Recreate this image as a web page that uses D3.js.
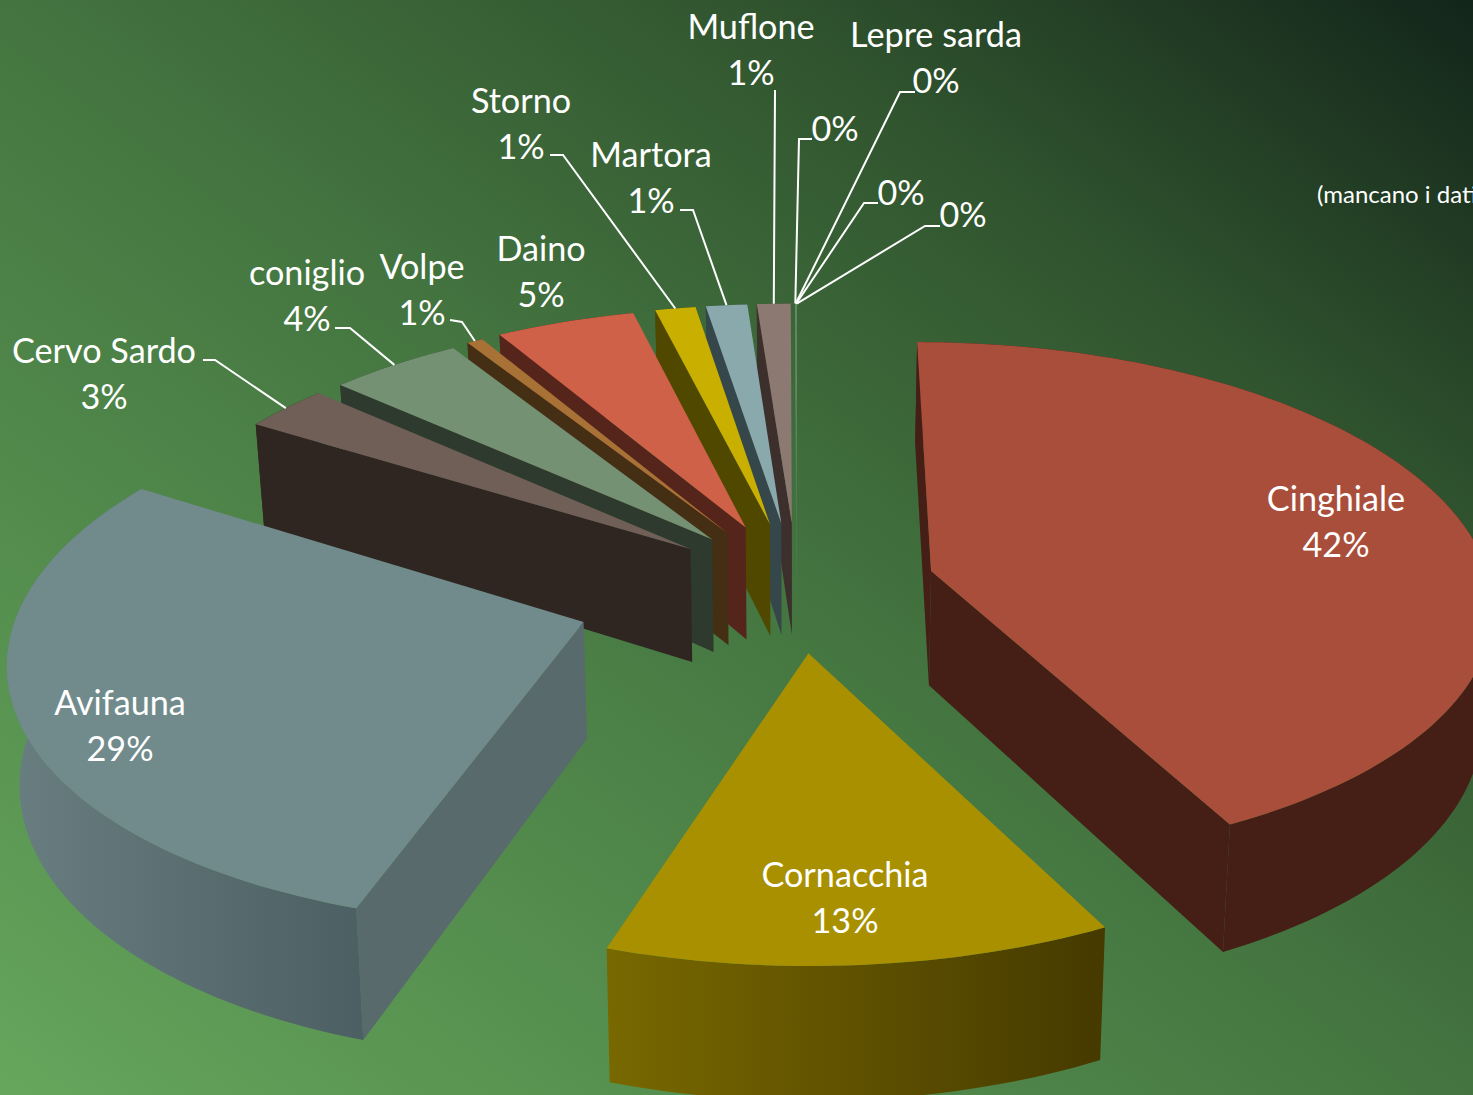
<!DOCTYPE html>
<html>
<head>
<meta charset="utf-8">
<script src="https://cdn.jsdelivr.net/npm/d3@7"></script>
<style>
  html, body { margin: 0; padding: 0; background: #3f6b3a; overflow: hidden; }
  text { font-family: Lato, "Open Sans", sans-serif; fill: #fff; }
</style>
</head>
<body>
<svg id="chart"></svg>
<script>
const width = 1473;
const height = 1095;

const categories = ["Cinghiale", "Cornacchia", "Avifauna", "Cervo Sardo", "coniglio", "Volpe", "Daino", "Storno", "Martora", "Muflone", "", "Lepre sarda", "", ""];
const values = [42.45, 12.6, 28.8, 2.83, 4.36, 0.53, 4.58, 1.33, 1.36, 1.11, 0.0125, 0.0125, 0.0125, 0.0125];

// how far each slice is pulled out of the pie, in radii
const explode = [0.248, 0.253, 0.399, 0.242, 0.24, 0.245, 0.25, 0.25, 0.25, 0.25, 0.25, 0.25, 0.25, 0.25];

const topColors = ["#a94e3a", "#a89000", "#718b8c", "#6f5f57", "#749174", "#a87135", "#cf6148", "#c9b000", "#8aa9ad", "#8b7972", "#7da07a", "#7da07a", "#7da07a", "#7da07a"];
const wallColors = ["#451f15", "#463a00", "#586a6c", "#2f2622", "#2d3a2d", "#452f14", "#55251c", "#514800", "#36474b", "#3c2f2c", "#4f7a50", "#4f7a50", "#4f7a50", "#4f7a50"];
const wallLight = ["#451f15", "#786800", "#687d80", "#2f2622", "#2d3a2d", "#452f14", "#55251c", "#514800", "#36474b", "#3c2f2c", "#4f7a50", "#4f7a50", "#4f7a50", "#4f7a50"];
const wallDark = ["#451f15", "#463a00", "#4c5f62", "#2f2622", "#2d3a2d", "#452f14", "#55251c", "#514800", "#36474b", "#3c2f2c", "#4f7a50", "#4f7a50", "#4f7a50", "#4f7a50"];

// text centre x, name baseline y, leader start/elbow
const labelLayout = [
  { x: 1336, y: 510 },
  { x: 845, y: 886 },
  { x: 120, y: 714 },
  { x: 104, y: 362, from: [203, 360], elbow: [215, 360] },
  { x: 307, y: 284, from: [335, 328], elbow: [350, 328] },
  { x: 422, y: 278, from: [450, 320], elbow: [462, 322] },
  { x: 541, y: 260 },
  { x: 521, y: 112, from: [550, 155], elbow: [563, 155] },
  { x: 651, y: 166, from: [680, 210], elbow: [693, 210] },
  { x: 751, y: 38, from: [775, 90], elbow: [775, 92] },
  { x: 835, y: 94, pctOnly: true, from: [812, 139], elbow: [799, 139] },
  { x: 936, y: 46, from: [915, 92], elbow: [900, 92] },
  { x: 901, y: 158, pctOnly: true, from: [878, 203], elbow: [864, 203] },
  { x: 963, y: 180, pctOnly: true, from: [940, 226], elbow: [925, 226] }
];

// 3d view of the pie plane
const cx = 797;
const cy = 586;
const radiusX = 560;
const radiusY = 259;
const persp = 0.117;
const depth = 115;
const squeeze = 0.016;

function project(u, v, z) {
  const w = 1 + persp * v;
  return [
    cx + (radiusX * u / w) * (1 - squeeze * z),
    cy + (-radiusY * v + depth * z) / w
  ];
}

const svg = d3.select("#chart").attr("width", width).attr("height", height);
const defs = svg.append("defs");

const bg = defs.append("linearGradient")
  .attr("id", "bg")
  .attr("x1", 0).attr("y1", 1).attr("x2", 1).attr("y2", 0);
bg.append("stop").attr("offset", 0).attr("stop-color", "#65a65c");
bg.append("stop").attr("offset", 0.5).attr("stop-color", "#447540");
bg.append("stop").attr("offset", 0.75).attr("stop-color", "#31552f");
bg.append("stop").attr("offset", 1).attr("stop-color", "#13251a");

svg.append("rect").attr("width", width).attr("height", height).attr("fill", "url(#bg)");

const pie = d3.pie().sort(null).startAngle(0).endAngle(2 * Math.PI);
const arcs = pie(values).map((a, i) => {
  const mid = (a.startAngle + a.endAngle) / 2;
  const ox = explode[i] * Math.sin(mid);
  const oy = explode[i] * Math.cos(mid);
  const n = Math.max(2, Math.ceil((a.endAngle - a.startAngle) * 40));
  const angles = d3.range(n + 1).map((k) => a.startAngle + (a.endAngle - a.startAngle) * k / n);
  const at = (t, z) => project(ox + Math.sin(t), oy + Math.cos(t), z);
  return { i, mid, ox, oy, angles, at, apex: (z) => project(ox, oy, z) };
});

const line = d3.line();
const closed = (pts) => line(pts) + "Z";

// back slices first
const order = arcs.slice().sort((a, b) => Math.cos(b.mid) - Math.cos(a.mid));

const slices = svg.selectAll("g.slice")
  .data(order)
  .enter()
  .append("g")
  .attr("class", "slice");

slices.each(function (d) {
  const g = d3.select(this);
  const topPts = [d.apex(0)].concat(d.angles.map((t) => d.at(t, 0)));
  const topSign = Math.sign(d3.polygonArea(topPts));

  const arcTop = d.angles.map((t) => d.at(t, 0));
  const arcBot = d.angles.map((t) => d.at(t, 1));
  const xs = arcBot.map((p) => p[0]);
  const grad = defs.append("linearGradient")
    .attr("id", "wall" + d.i)
    .attr("gradientUnits", "userSpaceOnUse")
    .attr("x1", d3.min(xs)).attr("x2", d3.max(xs)).attr("y1", 0).attr("y2", 0);
  grad.append("stop").attr("offset", 0).attr("stop-color", wallLight[d.i]);
  grad.append("stop").attr("offset", 1).attr("stop-color", wallDark[d.i]);

  const t0 = d.angles[0];
  const t1 = d.angles[d.angles.length - 1];
  const sides = [
    [d.apex(0), d.at(t0, 0), d.at(t0, 1), d.apex(1)],
    [d.at(t1, 0), d.apex(0), d.apex(1), d.at(t1, 1)]
  ];
  sides.filter((q) => Math.sign(d3.polygonArea(q)) !== topSign).forEach((q) => {
    g.append("path").attr("d", closed(q)).attr("fill", wallColors[d.i]);
  });

  g.append("path")
    .attr("d", closed(arcTop.concat(arcBot.slice().reverse())))
    .attr("fill", "url(#wall" + d.i + ")");

  g.append("path").attr("d", closed(topPts)).attr("fill", topColors[d.i]);
});

// labels
const labels = svg.selectAll("g.label")
  .data(arcs)
  .enter()
  .append("g")
  .attr("class", "label");

labels.each(function (d) {
  const g = d3.select(this);
  const l = labelLayout[d.i];
  const pct = Math.round(values[d.i]) + "%";
  if (l.from) {
    g.append("path")
      .attr("d", line([l.from, l.elbow, d.at(d.mid, 0)]))
      .attr("fill", "none")
      .attr("stroke", "#fff")
      .attr("stroke-width", 2);
  }
  if (!l.pctOnly) {
    g.append("text").attr("x", l.x).attr("y", l.y + 1).attr("text-anchor", "middle").attr("font-size", 34.2).text(categories[d.i]);
  }
  g.append("text").attr("x", l.x).attr("y", l.y + 47).attr("text-anchor", "middle").attr("font-size", 34.2).text(pct);
});

svg.append("text").attr("x", 1317).attr("y", 203).attr("font-size", 24).text("(mancano i dati");
</script>
</body>
</html>
